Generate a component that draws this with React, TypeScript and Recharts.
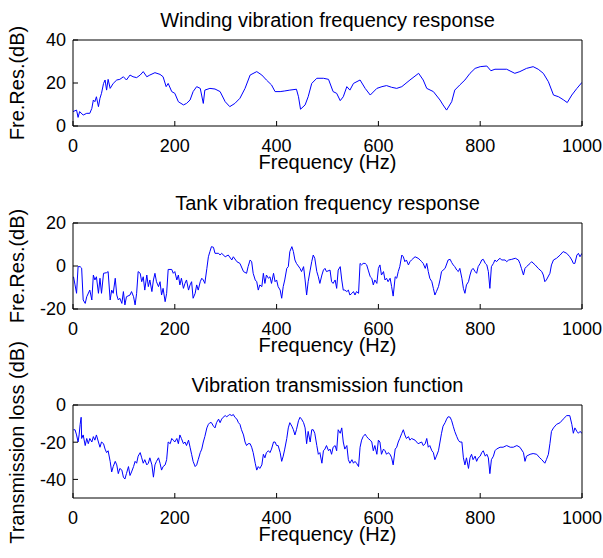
import React from 'react';
import { LineChart, Line, XAxis, YAxis } from 'recharts';

const FONT = '"Liberation Sans", Arial, sans-serif';
const BLUE = '#0000ff';

const freqTicks = [0, 200, 400, 600, 800, 1000];

// Winding vibration frequency response (dB)
const windingFreq = [
  0, 7, 10, 13, 20, 27, 33, 37, 40, 43,
  46, 50, 53, 56, 60, 63, 66, 69, 73, 79,
  86, 92, 99, 105, 112, 118, 125, 132, 138, 145,
  151, 161, 171, 177, 183, 187, 194, 200, 207, 217,
  223, 230, 236, 243, 250, 256, 259, 269, 279, 289,
  299, 308, 318, 328, 338, 348, 361, 371, 380, 390,
  397, 407, 416, 426, 439, 443, 447, 456, 462, 469,
  479, 492, 502, 511, 518, 525, 531, 538, 544, 551,
  564, 574, 584, 597, 607, 616, 626, 636, 646, 662,
  679, 688, 695, 708, 721, 727, 734, 744, 750, 760,
  770, 780, 790, 800, 813, 821, 829, 852, 868, 878,
  891, 904, 914, 924, 934, 944, 954, 964, 971, 980,
  990, 1000,
];
const windingDb = [
  6.7, 7.4, 4.0, 6.7, 5.1, 5.9, 5.9, 8.2, 12.1, 11.3,
  13.6, 9.0, 12.9, 15.2, 19.8, 21.4, 16.7, 21.7, 17.5, 19.8,
  21.4, 21.7, 22.9, 21.4, 23.7, 22.9, 22.5, 23.7, 25.3, 22.9,
  23.7, 24.8, 24.0, 22.9, 18.3, 19.8, 16.0, 15.2, 11.3, 9.8,
  10.5, 12.1, 16.0, 18.3, 17.5, 10.5, 16.7, 17.5, 17.2, 16.0,
  11.3, 9.0, 10.5, 12.9, 17.5, 23.7, 25.3, 23.7, 21.4, 19.1,
  16.0, 16.0, 16.3, 16.7, 17.1, 13.6, 7.8, 9.8, 13.6, 19.8,
  22.2, 22.2, 21.7, 16.0, 15.2, 11.8, 13.6, 18.3, 16.7, 19.8,
  21.4, 17.5, 14.4, 17.5, 18.3, 18.8, 18.0, 17.5, 18.3, 21.4,
  24.5, 21.4, 17.5, 16.0, 12.1, 9.8, 7.4, 11.3, 16.7, 19.1,
  21.4, 24.5, 26.8, 27.6, 27.9, 25.7, 26.4, 26.4, 24.5, 25.3,
  26.8, 27.6, 26.4, 24.5, 20.6, 14.4, 13.6, 12.1, 10.9, 14.4,
  17.5, 20.3,
];

// Tank vibration frequency response (dB)
const tankFreq = [
  1, 4, 7, 10, 14, 17, 20, 24, 27, 33,
  37, 40, 43, 46, 50, 53, 56, 60, 66, 69,
  73, 76, 79, 83, 86, 89, 92, 96, 99, 102,
  105, 112, 115, 119, 122, 125, 128, 132, 135, 138,
  141, 145, 148, 151, 155, 158, 161, 164, 168, 171,
  174, 177, 181, 184, 187, 194, 197, 200, 204, 207,
  210, 213, 217, 220, 223, 227, 230, 233, 236, 240,
  243, 246, 250, 253, 256, 259, 263, 266, 269, 272,
  276, 279, 286, 289, 292, 299, 305, 312, 315, 322,
  328, 335, 341, 344, 348, 351, 354, 358, 361, 364,
  367, 371, 374, 377, 380, 384, 387, 390, 394, 397,
  400, 403, 407, 410, 413, 416, 420, 423, 426, 430,
  433, 436, 439, 446, 449, 453, 456, 459, 462, 466,
  469, 472, 475, 479, 482, 485, 489, 492, 495, 498,
  505, 508, 511, 515, 518, 521, 525, 528, 531, 534,
  538, 541, 544, 548, 551, 554, 557, 561, 564, 567,
  570, 574, 577, 580, 584, 587, 590, 593, 597, 600,
  603, 606, 610, 613, 616, 619, 623, 626, 629, 633,
  636, 639, 642, 646, 649, 652, 655, 659, 662, 665,
  672, 678, 682, 685, 688, 692, 695, 698, 701, 705,
  708, 711, 714, 718, 721, 724, 731, 737, 741, 744,
  747, 750, 754, 757, 760, 764, 767, 770, 773, 777,
  780, 783, 786, 790, 793, 796, 800, 803, 806, 810,
  813, 816, 819, 822, 826, 829, 832, 835, 839, 842,
  849, 852, 856, 862, 869, 875, 878, 881, 885, 888,
  891, 898, 901, 908, 914, 921, 924, 927, 930, 937,
  940, 944, 950, 957, 963, 970, 976, 980, 983, 986,
  990, 993, 996, 1000,
];
const tankDb = [
  -5.0, -8.8, -12.7, -0.3, -0.3, -1.0, -15.8, -17.4, -14.3, -11.2,
  -15.8, -4.2, -6.5, -5.0, -12.7, -5.7, -12.7, -3.4, -3.1, -2.6,
  -15.8, -11.2, -12.7, -5.7, -13.5, -15.8, -15.0, -17.4, -11.9, -18.1,
  -14.3, -13.5, -11.9, -14.3, -18.1, -12.7, -2.6, -3.4, -7.3, -5.0,
  -11.2, -4.2, -9.6, -6.5, -11.9, -6.5, -3.4, -7.3, -9.6, -7.3,
  -13.5, -10.4, -16.6, -12.7, -1.6, -1.6, -3.4, -2.6, -6.5, -4.2,
  -8.8, -5.7, -10.4, -8.1, -6.5, -11.2, -8.8, -7.3, -15.0, -12.7,
  -8.8, -11.2, -7.3, -5.7, -6.5, -8.1, -1.1, 4.3, 6.7, 9.0,
  8.7, 5.9, 5.9, 5.1, 5.9, 4.3, 5.1, 2.8, 4.3, 2.0,
  1.2, -2.6, -3.4, -0.3, 2.8, 2.0, -3.4, -6.5, -7.3, -11.2,
  -8.8, -9.6, -3.4, -8.1, -4.2, -5.7, -5.0, -8.1, -3.4, -7.3,
  -6.5, -9.6, -11.2, -15.0, -9.6, -6.5, -1.1, -0.3, 6.7, 9.0,
  6.7, 2.8, 1.2, -1.1, -2.6, -0.3, -6.5, -13.5, -7.3, -1.9,
  2.0, 5.1, 3.6, -2.6, -5.0, -8.1, -4.2, -1.9, -1.1, -2.6,
  -1.9, -7.3, -8.1, -6.5, -10.4, -1.9, -0.3, -6.5, -11.2, -11.2,
  -11.9, -11.2, -13.5, -12.7, -11.9, -13.5, -11.9, -12.7, 1.2, 0.5,
  1.2, 1.2, 0.5, -1.9, -5.0, -5.7, -8.8, -6.5, -8.1, -1.1,
  0.5, -4.2, -2.6, -6.5, -5.7, -7.3, -5.7, -9.6, -14.0, -5.0,
  -5.7, -2.6, -0.3, 5.1, 4.3, 2.0, 2.8, 0.5, 2.0, 2.8,
  4.3, 3.6, 2.8, 2.0, 1.2, -1.1, 1.2, -2.6, -5.7, -7.3,
  -10.4, -13.5, -11.9, -9.6, -6.5, -2.6, -1.1, 2.8, 3.1, 1.6,
  0.5, -0.3, -1.9, -2.6, -1.1, -5.7, -10.4, -12.7, -8.8, -7.3,
  -4.2, -1.9, -1.1, -2.6, -3.4, -0.3, 1.2, 2.8, 3.1, 1.2,
  0.5, -2.6, -10.4, -0.3, 1.2, 2.8, 2.0, 2.8, 3.6, 2.8,
  2.8, 2.0, 2.8, 3.1, 3.6, 2.8, 1.2, -1.1, -4.2, -1.1,
  -0.3, 1.2, 2.0, 0.5, -1.1, -2.6, -4.2, -7.3, -6.5, -3.4,
  0.5, 2.8, 3.6, 5.1, 6.7, 5.9, 4.3, 2.8, 1.2, 1.2,
  5.1, 5.9, 4.3, 5.9,
];

// Vibration transmission function (dB)
const transFreq = [
  1, 4, 7, 10, 12, 14, 16, 17, 20, 24,
  27, 30, 33, 37, 40, 43, 46, 50, 53, 56,
  60, 63, 66, 69, 73, 76, 79, 83, 86, 89,
  92, 96, 99, 102, 105, 109, 112, 115, 119, 122,
  125, 128, 132, 135, 138, 141, 145, 148, 151, 155,
  158, 161, 164, 168, 171, 174, 177, 181, 184, 187,
  191, 194, 197, 200, 204, 207, 210, 213, 217, 220,
  223, 227, 230, 233, 236, 240, 243, 246, 250, 253,
  256, 259, 263, 266, 269, 272, 276, 279, 282, 286,
  289, 292, 295, 299, 302, 305, 308, 312, 315, 318,
  322, 325, 328, 331, 335, 338, 341, 344, 348, 351,
  354, 358, 361, 364, 367, 371, 374, 377, 380, 384,
  387, 390, 394, 397, 400, 403, 407, 410, 413, 416,
  420, 423, 426, 430, 433, 436, 439, 443, 446, 449,
  453, 456, 459, 462, 466, 469, 472, 475, 479, 482,
  485, 489, 492, 495, 498, 502, 505, 508, 511, 515,
  518, 521, 525, 528, 531, 534, 538, 541, 544, 548,
  551, 554, 557, 561, 564, 567, 570, 574, 577, 580,
  584, 587, 590, 593, 597, 600, 603, 606, 610, 613,
  616, 619, 623, 626, 629, 633, 636, 639, 642, 646,
  649, 652, 655, 659, 662, 665, 672, 678, 685, 688,
  692, 695, 698, 701, 705, 708, 711, 714, 718, 721,
  724, 727, 731, 734, 737, 741, 744, 747, 750, 754,
  757, 760, 764, 767, 770, 773, 777, 780, 783, 786,
  790, 793, 796, 800, 803, 806, 810, 813, 816, 819,
  822, 826, 829, 832, 839, 845, 852, 859, 865, 872,
  878, 885, 888, 891, 898, 904, 911, 917, 921, 927,
  930, 934, 937, 940, 944, 950, 957, 963, 970, 976,
  980, 983, 986, 990, 993, 996, 1000,
];
const transDb = [
  -13.3, -13.3, -16.1, -19.9, -16.1, -10.4, -6.6, -18.0, -16.1, -21.8,
  -18.0, -20.8, -18.0, -19.9, -17.0, -18.9, -16.1, -19.9, -22.7, -19.9,
  -20.8, -23.7, -25.6, -24.6, -30.3, -36.0, -33.1, -30.3, -32.2, -36.9,
  -34.1, -35.0, -38.8, -39.8, -36.9, -33.1, -37.9, -36.0, -33.1, -30.3,
  -31.3, -27.5, -25.6, -28.4, -31.3, -29.4, -32.2, -31.3, -28.4, -32.2,
  -38.8, -32.2, -30.3, -28.4, -31.3, -35.0, -33.1, -32.2, -29.4, -19.9,
  -20.8, -18.0, -18.9, -19.9, -18.0, -20.8, -16.1, -18.0, -20.8, -19.9,
  -21.8, -18.9, -22.7, -26.5, -30.3, -33.1, -32.2, -29.4, -25.6, -23.7,
  -19.9, -17.0, -12.3, -10.4, -9.5, -9.5, -11.4, -12.3, -9.5, -7.6,
  -9.5, -7.6, -6.6, -5.7, -6.3, -5.7, -5.1, -5.7, -5.1, -6.6,
  -7.6, -9.5, -10.4, -13.3, -16.1, -19.9, -21.8, -20.8, -20.8, -22.7,
  -25.6, -31.3, -35.0, -33.1, -34.1, -32.2, -26.5, -28.4, -25.6, -24.6,
  -25.6, -23.7, -19.9, -19.9, -21.8, -21.8, -25.6, -30.3, -27.5, -23.7,
  -18.0, -12.3, -9.5, -11.4, -13.3, -16.1, -13.3, -8.5, -6.6, -7.6,
  -9.5, -12.3, -20.8, -14.2, -19.9, -13.3, -13.3, -15.2, -21.8, -26.5,
  -25.6, -31.3, -24.6, -23.7, -21.8, -24.6, -23.7, -26.5, -22.7, -21.8,
  -24.6, -13.3, -15.2, -12.3, -19.9, -23.7, -21.8, -29.4, -31.3, -29.4,
  -31.3, -30.3, -31.3, -33.1, -22.7, -18.9, -17.0, -15.7, -17.0, -18.0,
  -18.9, -19.9, -24.6, -21.8, -26.5, -18.9, -19.9, -26.5, -23.7, -24.6,
  -26.5, -25.6, -26.5, -28.4, -32.2, -23.7, -22.7, -19.9, -18.0, -15.2,
  -13.3, -16.1, -18.0, -17.0, -18.9, -18.0, -18.9, -20.8, -19.9, -21.8,
  -20.8, -18.0, -22.7, -21.8, -24.6, -25.6, -29.4, -27.5, -24.6, -19.9,
  -15.2, -11.4, -9.5, -7.6, -6.3, -6.6, -8.5, -11.4, -14.2, -17.0,
  -18.9, -19.9, -19.9, -28.4, -32.2, -28.4, -34.1, -28.4, -26.5, -29.4,
  -27.5, -30.3, -28.4, -27.5, -25.6, -24.6, -27.5, -26.5, -28.4, -36.9,
  -29.4, -27.5, -24.6, -23.7, -22.7, -22.7, -21.8, -22.7, -22.7, -21.8,
  -22.7, -25.6, -30.3, -27.5, -26.5, -26.1, -26.5, -28.4, -29.4, -31.3,
  -29.4, -26.5, -20.8, -14.2, -12.3, -10.4, -9.5, -7.6, -5.7, -5.7,
  -10.4, -15.2, -12.3, -14.2, -15.2, -14.2, -15.2,
];

function SideLabel(props: any) {
  const { viewBox, text, shift = 0 } = props;
  const x = 17;
  const y = viewBox.y + viewBox.height / 2 - shift;
  return (
    <text
      x={x}
      y={y}
      dy="0.35em"
      transform={`rotate(-90, ${x}, ${y})`}
      textAnchor="middle"
      fill="#000"
      fontSize={20}
      fontFamily={FONT}
    >
      {text}
    </text>
  );
}

interface PanelProps {
  top: number;
  height: number;
  marginTop?: number;
  title: string;
  yLabel: string;
  yLabelShift?: number;
  freq: number[];
  values: number[];
  yDomain: [number, number];
  yTicks: number[];
}

function Panel({ top, height, marginTop = 30, title, yLabel, yLabelShift = 0, freq, values, yDomain, yTicks }: PanelProps) {
  const data = freq.map((f, i) => ({ f, v: values[i] }));
  const axisLine = { stroke: '#000', strokeWidth: 1 };
  const tickLine = { stroke: '#000', strokeWidth: 1 };
  const tickStyle = { fill: '#000', fontSize: 18, fontFamily: FONT };

  return (
    <div style={{ position: 'absolute', left: 0, top }}>
      <LineChart width={603} height={height} data={data} margin={{ top: marginTop, right: 0, bottom: 10, left: 0 }}>
        <XAxis
          xAxisId="top"
          orientation="top"
          dataKey="f"
          type="number"
          domain={[0, 1000]}
          ticks={freqTicks}
          allowDataOverflow
          height={10}
          tick={false}
          tickSize={-5}
          axisLine={axisLine}
          tickLine={tickLine}
          label={{ value: title, position: 'top', offset: 3, fill: '#000', fontSize: 20, fontFamily: FONT }}
        />
        <XAxis
          xAxisId="bottom"
          dataKey="f"
          type="number"
          domain={[0, 1000]}
          ticks={freqTicks}
          allowDataOverflow
          height={50}
          tick={tickStyle}
          tickSize={-5}
          tickMargin={18}
          axisLine={axisLine}
          tickLine={tickLine}
          label={{ value: 'Frequency (Hz)', position: 'insideBottom', offset: 7, fill: '#000', fontSize: 20, fontFamily: FONT }}
        />
        <YAxis
          yAxisId="left"
          type="number"
          domain={yDomain}
          ticks={yTicks}
          allowDataOverflow
          width={73}
          tick={tickStyle}
          tickSize={-5}
          tickMargin={12}
          axisLine={axisLine}
          tickLine={tickLine}
          label={<SideLabel text={yLabel} shift={yLabelShift} />}
        />
        <YAxis
          yAxisId="right"
          orientation="right"
          type="number"
          domain={yDomain}
          ticks={yTicks}
          allowDataOverflow
          width={21}
          tick={false}
          tickSize={-5}
          axisLine={axisLine}
          tickLine={tickLine}
        />
        <Line
          xAxisId="bottom"
          yAxisId="left"
          type="linear"
          dataKey="v"
          stroke={BLUE}
          strokeWidth={1}
          dot={false}
          isAnimationActive={false}
        />
      </LineChart>
    </div>
  );
}

export default function App() {
  return (
    <div style={{ position: 'absolute', left: 0, top: 0, width: 603, height: 558, background: '#fff' }}>
      <Panel
        top={0}
        height={186}
        title="Winding vibration frequency response"
        yLabel="Fre.Res.(dB)"
        freq={windingFreq}
        values={windingDb}
        yDomain={[0, 40]}
        yTicks={[0, 20, 40]}
      />
      <Panel
        top={183}
        height={186}
        title="Tank vibration frequency response"
        yLabel="Fre.Res.(dB)"
        freq={tankFreq}
        values={tankDb}
        yDomain={[-20, 20]}
        yTicks={[-20, 0, 20]}
      />
      <Panel
        top={330}
        height={228}
        marginTop={65}
        title="Vibration transmission function"
        yLabel="Transmission loss (dB)"
        yLabelShift={9}
        freq={transFreq}
        values={transDb}
        yDomain={[-50, 0]}
        yTicks={[-40, -20, 0]}
      />
    </div>
  );
}
